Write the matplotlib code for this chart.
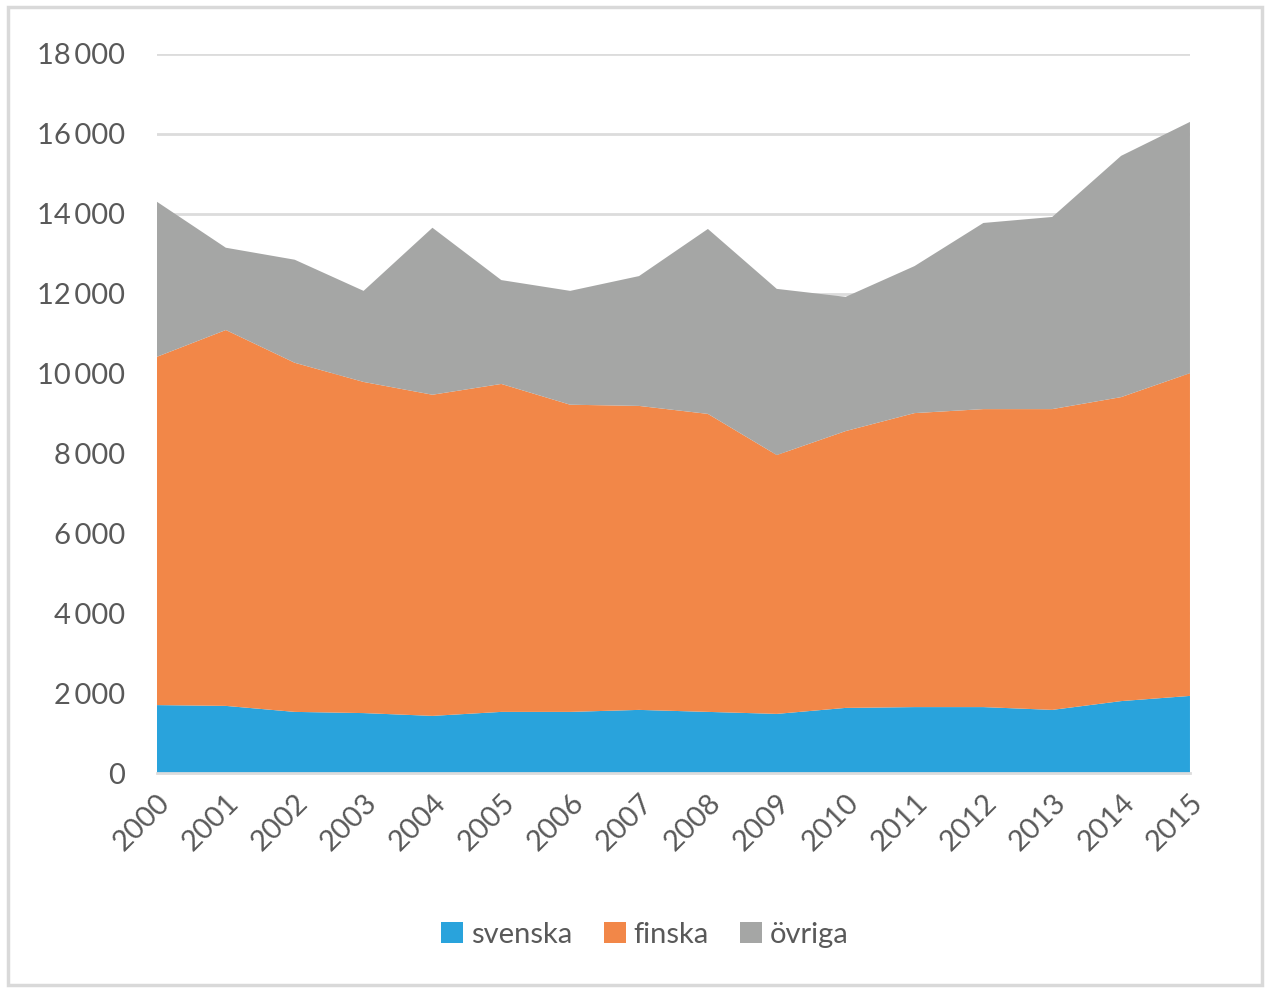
import numpy as np
import matplotlib.pyplot as plt
from matplotlib.patches import Rectangle, Patch
from matplotlib.ticker import FuncFormatter

years = list(range(2000, 2016))
svenska = [1700, 1680, 1530, 1500, 1430, 1530, 1530, 1580, 1530, 1480, 1630, 1650, 1650, 1580, 1800, 1930]
finska = [8720, 9410, 8740, 8290, 8040, 8210, 7690, 7610, 7460, 6480, 6930, 7360, 7460, 7530, 7610, 8080]
ovriga = [3880, 2060, 2580, 2280, 4180, 2600, 2850, 3250, 4630, 4160, 3360, 3680, 4660, 4810, 6040, 6290]

labels = ["svenska", "finska", "övriga"]
colors = ["#29a3dc", "#f28748", "#a5a6a5"]

plt.rcParams['font.family'] = ['Lato', 'DejaVu Sans']

fig = plt.figure(figsize=(12.67, 9.89), dpi=100, facecolor='white')
ax = fig.add_axes([0.1239, 0.2184, 0.8153, 0.7270])

ax.stackplot(years, svenska, finska, ovriga, colors=colors, labels=labels,
             linewidth=0, zorder=2)

ax.set_xlim(2000, 2015)
ax.set_ylim(0, 18000)
ax.set_yticks(np.arange(0, 18001, 2000))
ax.yaxis.set_major_formatter(FuncFormatter(lambda v, p: f"{int(v):,}".replace(",", "\u2009")))
ax.grid(axis='y', color='#dcdcdc', linewidth=2, zorder=0)
ax.set_axisbelow(True)
ax.set_xticks(years)
ax.set_xticklabels([str(y) for y in years], rotation=45, ha='right', va='top',
                   rotation_mode='anchor')
ax.tick_params(axis='both', length=0, labelsize=21, labelcolor='#595959')
ax.tick_params(axis='y', pad=23)
ax.tick_params(axis='x', pad=12)
for s in ['top', 'right', 'left']:
    ax.spines[s].set_visible(False)
ax.spines['bottom'].set_color('#dcdcdc')
ax.spines['bottom'].set_linewidth(2)

handles = [Patch(facecolor=c, label=l) for c, l in zip(colors, labels)]
fig.legend(handles=handles, loc='center', bbox_to_anchor=(0.509, 0.055), ncol=3,
           frameon=False, fontsize=21, handlelength=0.75, handleheight=0.75,
           handletextpad=0.25, columnspacing=1.1, labelcolor='#595959')

fig.patches.append(Rectangle((8 / 1267, 4 / 989), 1254 / 1267, 978 / 989,
                             transform=fig.transFigure, fill=False,
                             edgecolor='#d9d9d9', linewidth=2.5))

fig.savefig("out.png", dpi=100, facecolor='white')
